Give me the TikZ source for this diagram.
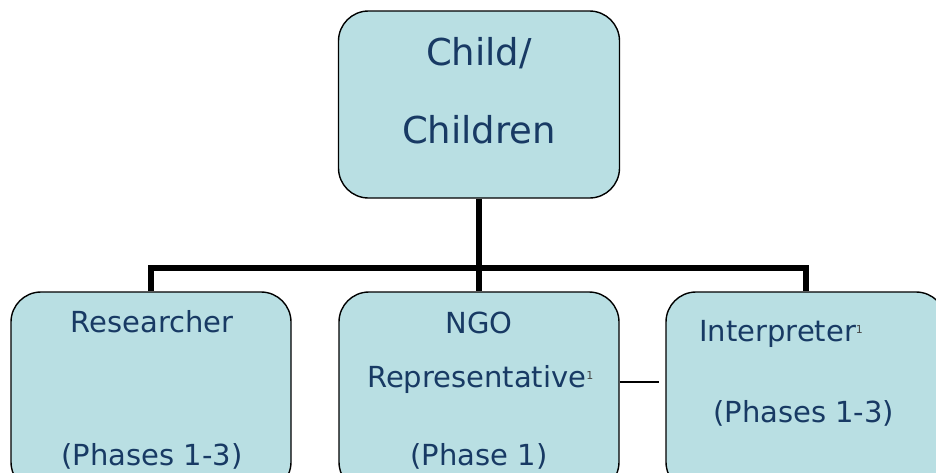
\documentclass[tikz,border=0pt]{standalone}
\usepackage{fontspec}
\setmainfont{DejaVu Sans}
\definecolor{boxfill}{RGB}{185,223,227}
\definecolor{boxtext}{RGB}{24,58,100}
\definecolor{notemark}{RGB}{70,70,70}
\tikzset{
  card/.style={draw=black, line width=1.4pt, fill=boxfill, rounded corners=30pt,
               minimum width=280pt, inner sep=0pt},
  conn/.style={line width=5.5pt, draw=black},
  link/.style={line width=1.4pt, draw=black},
  bigtxt/.style={text=boxtext, anchor=base, inner sep=0pt, font=\fontsize{37}{37}\selectfont},
  smalltxt/.style={text=boxtext, anchor=base, inner sep=0pt, font=\fontsize{29}{29}\selectfont},
}
\newcommand{\fnmark}{\textcolor{notemark}{\raisebox{8pt}{\fontsize{11}{11}\selectfont 1}}}
\begin{document}
\begin{tikzpicture}[x=1pt,y=-1pt]
  \useasboundingbox (0,0) rectangle (936,472);
  \clip (0,0) rectangle (936,472);

  % boxes
  \node[card, minimum width=281pt, minimum height=187pt] (child) at (479,104.5) {};
  \node[card, minimum height=200pt] (res) at (151,392) {};
  \node[card, minimum height=200pt] (ngo) at (479,392) {};
  \node[card, minimum height=200pt] (int) at (806,392) {};

  % tree connectors
  \coordinate (bus) at (479,268);
  \draw[conn] (child.south) -- (bus);
  \draw[conn] (res.north) |- (bus) -| (int.north);
  \draw[conn] (bus) -- (ngo.north);

  % side link
  \coordinate (lk) at (659,382);
  \draw[link] (ngo.east |- lk) -- (lk);

  % labels
  \node[bigtxt] (t1) at (479,65) {Child/};
  \node[bigtxt] (t2) at (479,143) {Children};

  \node[smalltxt] (r1) at (152,332) {Researcher};
  \node[smalltxt] (r2) at (152,465) {(Phases 1-3)};

  \node[smalltxt] (n1) at (479,333) {NGO};
  \node[smalltxt, anchor=base west] (n2) at (367,387) {Representative\fnmark};
  \node[smalltxt] (n3) at (479,465) {(Phase 1)};

  \node[smalltxt, anchor=base west] (i1) at (699,341) {Interpreter\fnmark};
  \node[smalltxt, anchor=base west] (i2) at (713,422) {(Phases 1-3)};
\end{tikzpicture}
\end{document}
